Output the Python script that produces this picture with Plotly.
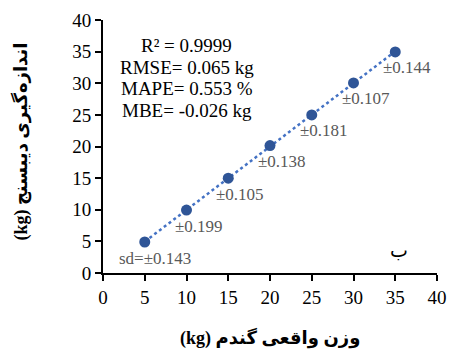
import numpy as np
import plotly.graph_objects as go

actual = [5, 10, 15, 20, 25, 30, 35]
measured = [4.9, 9.95, 15.0, 20.15, 25.0, 30.05, 34.95]
sd_labels = ["sd=±0.143", "±0.199", "±0.105", "±0.138", "±0.181", "±0.107", "±0.144"]
stats_lines = ["R² = 0.9999", "RMSE= 0.065 kg", "MAPE= 0.553 %", "MBE= -0.026 kg"]
x_ticks = [0, 5, 10, 15, 20, 25, 30, 35, 40]
y_ticks = [0, 5, 10, 15, 20, 25, 30, 35, 40]
x_title_fa = "وزن واقعی گندم"
y_title_fa = "اندازه‌گیری دیبسنج"
unit = "(kg)"
panel_label = "ب"

slope, intercept = np.polyfit(actual, measured, 1)
fit_x = [min(actual), max(actual)]
fit_y = [slope * v + intercept for v in fit_x]

BLUE = "#2F5597"
SERIF = "Liberation Serif, DejaVu Serif, serif"
TITLE_FONT = dict(family="Liberation Serif, DejaVu Sans", size=18, color="black", weight="bold")

fig = go.Figure()
fig.add_trace(go.Scatter(x=fit_x, y=fit_y, mode="lines",
                         line=dict(color="#4472C4", width=2.5, dash="dot"),
                         hoverinfo="skip", showlegend=False))
fig.add_trace(go.Scatter(x=actual, y=measured, mode="markers",
                         marker=dict(color=BLUE, size=11),
                         showlegend=False))

for i, (xv, yv, lab) in enumerate(zip(actual, measured, sd_labels)):
    fig.add_annotation(x=xv, y=yv, text=lab, showarrow=False,
                       xanchor="right", yanchor="middle",
                       xshift=38 if i else 48, yshift=-16,
                       font=dict(family=SERIF, size=17, color="#595959"))

for j, line in enumerate(stats_lines):
    fig.add_annotation(x=0.25, y=0.9 - j * 0.086, xref="paper", yref="paper",
                       text=line, showarrow=False, xanchor="center", yanchor="middle",
                       font=dict(family=SERIF, size=19, color="black"))

fig.add_annotation(x=0.92, y=0.04, xref="paper", yref="paper", text=panel_label,
                   showarrow=False, font=dict(family="DejaVu Sans, serif", size=19, color="black"))

# axis titles (unit placed first so it renders on the left, as in RTL layout)
fig.add_annotation(x=-0.245, y=0.52, xref="paper", yref="paper",
                   text="<b>" + unit + " " + y_title_fa + "</b>",
                   textangle=-90, showarrow=False, xanchor="center", yanchor="middle",
                   font=TITLE_FONT)
fig.add_annotation(x=0.5, y=-0.255, xref="paper", yref="paper",
                   text="<b>" + unit + " " + x_title_fa + "</b>",
                   showarrow=False, xanchor="center", yanchor="middle",
                   font=TITLE_FONT)

axis_common = dict(showline=True, linecolor="black", linewidth=2, ticks="outside",
                   tickcolor="black", tickwidth=2, ticklen=6, showgrid=False,
                   zeroline=False, tickfont=dict(family=SERIF, size=19, color="black"),
                   range=[0, 40], automargin=False)

fig.update_xaxes(**axis_common, tickvals=x_ticks)
fig.update_yaxes(**axis_common, tickvals=y_ticks)

fig.update_layout(width=449, height=352, margin=dict(l=103, r=12, t=20, b=79),
                  plot_bgcolor="white", paper_bgcolor="white")
fig.write_html("out.html")
